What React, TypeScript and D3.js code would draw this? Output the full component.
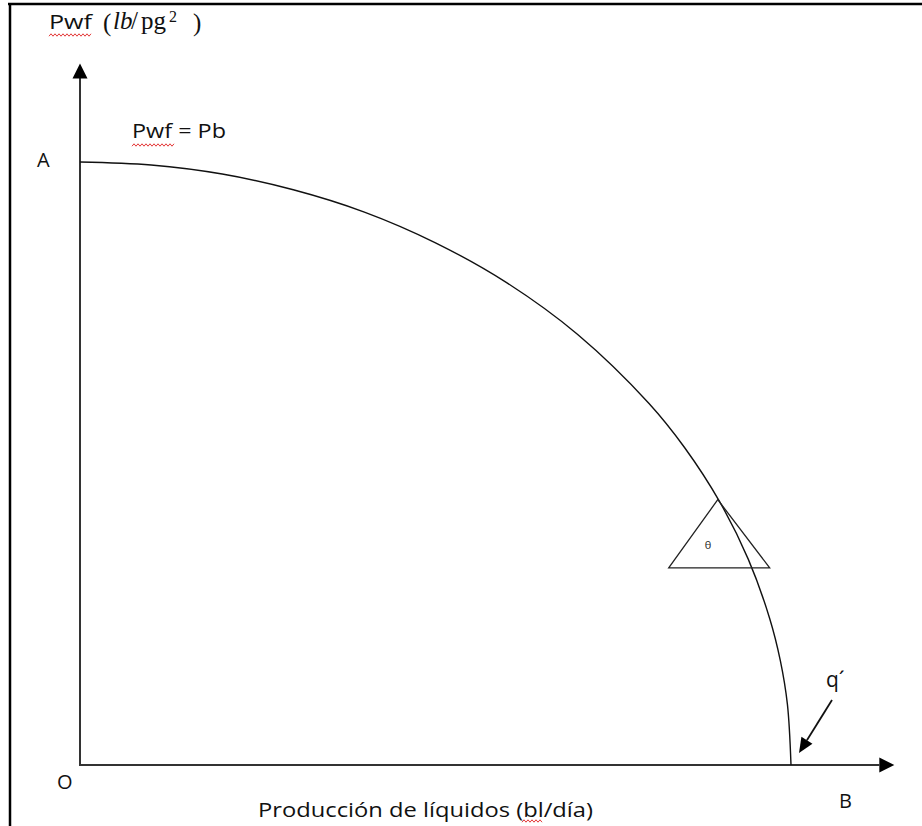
import React from "react";
import * as d3 from "d3";

// Curve: q as fraction of B (qmax), Pwf as fraction of A (Pb)
const qValues = [0, 0.1, 0.2, 0.3, 0.4, 0.5, 0.6, 0.7, 0.8, 0.85, 0.9, 0.94, 0.97, 0.985, 0.995, 1];
const pwfValues = [1, 0.995, 0.98, 0.954, 0.917, 0.866, 0.8, 0.714, 0.6, 0.527, 0.436, 0.341, 0.243, 0.173, 0.1, 0];

// Triangle annotation (θ) in data units
const triQ = [0.897, 0.828, 0.97];
const triP = [0.44, 0.327, 0.327];

const labels = {
  yTitle: "Pwf",
  pb: "Pwf = Pb",
  xTitle: "Producción de líquidos (bl/día)",
  a: "A",
  o: "O",
  b: "B",
  q: "q´",
  theta: "θ",
};

const W = 922;
const H = 826;
const sans = "'Open Sans', 'Noto Sans', sans-serif";
const serif = "'Liberation Serif', 'DejaVu Serif', serif";

function squiggle(x0: number, x1: number, y: number) {
  const pts: [number, number][] = [];
  let i = 0;
  for (let x = x0; x <= x1; x += 2) {
    pts.push([x, y + (i % 2 === 0 ? 1.2 : -1.2)]);
    i++;
  }
  return d3.line()(pts) || "";
}

export default function App() {
  const x = d3.scaleLinear().domain([0, 1]).range([80, 791]);
  const y = d3.scaleLinear().domain([0, 1]).range([765, 162]);
  const pts: [number, number][] = qValues.map((q, i) => [x(q), y(pwfValues[i])]);
  const curve = d3.line().curve(d3.curveCatmullRom.alpha(0.5))(pts) || "";
  const tri = triQ.map((q, i) => `${x(q)},${y(triP[i])}`).join(" ");

  const x0 = x(0);
  const y0 = y(0);
  const xEnd = x(1.127);
  const yEnd = y(1.16);

  // q' arrow
  const ax0 = 832, ay0 = 700, tx = 799, ty = 753;
  const dx = tx - ax0, dy = ty - ay0;
  const len = Math.hypot(dx, dy);
  const ux = dx / len, uy = dy / len;
  const hl = 15, hw = 6.5;
  const bx = tx - ux * hl, by = ty - uy * hl;
  const head = `${tx},${ty} ${bx + uy * hw},${by - ux * hw} ${bx - uy * hw},${by + ux * hw}`;

  return (
    <svg
      width={W}
      height={H}
      style={{ position: "absolute", left: 0, top: 0, background: "#fff" }}
    >
      <rect x={0} y={0} width={W} height={H} fill="#fff" />
      {/* frame */}
      <line x1={8} y1={4} x2={W} y2={4} stroke="#000" strokeWidth={2.5} />
      <line x1={10} y1={3} x2={10} y2={H} stroke="#000" strokeWidth={2.5} />

      {/* axes */}
      <line x1={x0} y1={y0} x2={x0} y2={yEnd + 12} stroke="#333" strokeWidth={2} />
      <polygon points={`${x0},${yEnd - 2} ${x0 - 7.5},${yEnd + 13} ${x0 + 7.5},${yEnd + 13}`} fill="#000" />
      <line x1={x0 - 1} y1={y0} x2={xEnd - 2} y2={y0} stroke="#333" strokeWidth={2} />
      <polygon points={`${xEnd + 13},${y0} ${xEnd - 2},${y0 - 7.5} ${xEnd - 2},${y0 + 7.5}`} fill="#000" />

      {/* curve */}
      <path d={curve} fill="none" stroke="#111" strokeWidth={1.4} />

      {/* triangle */}
      <polygon points={tri} fill="none" stroke="#222" strokeWidth={1.3} />
      <text x={708} y={549} fontFamily={sans} fontSize={11} textAnchor="middle" fill="#222">
        {labels.theta}
      </text>

      {/* q' arrow */}
      <line x1={ax0} y1={ay0} x2={bx} y2={by} stroke="#111" strokeWidth={1.8} />
      <polygon points={head} fill="#000" />

      {/* texts */}
      <text x={49} y={29} fontFamily={sans} fontSize={20} fill="#111" textLength={43} lengthAdjust="spacingAndGlyphs">
        {labels.yTitle}
      </text>
      <g fontFamily={serif} fontSize={25} fill="#111">
        <text x={103} y={31}>(</text>
        <text x={113} y={29} fontStyle="italic">lb</text>
        <text x={131} y={29}>/</text>
        <text x={141} y={29}>pg</text>
        <text x={169} y={22} fontSize={16}>2</text>
        <text x={193} y={31}>)</text>
      </g>
      <path d={squiggle(49, 92, 35)} fill="none" stroke="#e02020" strokeWidth={0.9} />

      <text x={132} y={138} fontFamily={sans} fontSize={20} fill="#111" textLength={94} lengthAdjust="spacingAndGlyphs">
        {labels.pb}
      </text>
      <path d={squiggle(132, 175, 145)} fill="none" stroke="#e02020" strokeWidth={0.9} />

      <text x={37} y={167} fontFamily={sans} fontSize={20} fill="#111">{labels.a}</text>
      <text x={57} y={789} fontFamily={sans} fontSize={20} fill="#111">{labels.o}</text>
      <text x={839} y={808} fontFamily={sans} fontSize={20} fill="#111">{labels.b}</text>
      <text x={826} y={687} fontFamily={sans} fontSize={21} fill="#111">{labels.q}</text>

      <text x={258} y={817} fontFamily={sans} fontSize={20} fill="#111" textLength={335} lengthAdjust="spacingAndGlyphs">
        {labels.xTitle}
      </text>
      <path d={squiggle(522, 542, 821)} fill="none" stroke="#e02020" strokeWidth={0.9} />
    </svg>
  );
}
